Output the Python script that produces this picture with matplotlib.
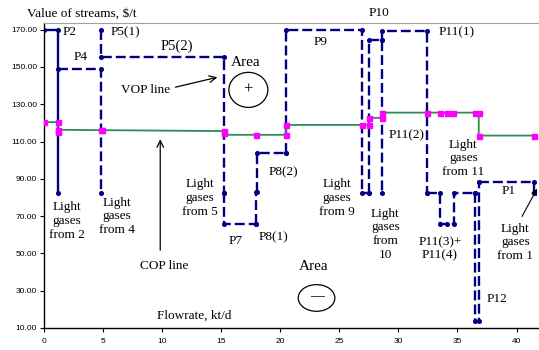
import matplotlib.pyplot as plt
from matplotlib.patches import Ellipse

# process paths (flowrate kt/d, value $/t)
p2_x = [0, 1.16, 1.16]
p2_y = [170, 170, 82.6]
p4_x = [1.16, 4.82, 4.82]
p4_y = [149, 149, 82.6]
p5_x = [4.82, 4.82, 15.25, 15.25]
p5_y = [170, 155.2, 155.2, 82.6]
p7_x = [15.25, 15.25, 17.94]
p7_y = [82.6, 65.6, 65.6]
p8a_x = [17.94, 17.94]
p8a_y = [65.6, 82.9]
p8b_x = [18.05, 18.05, 20.47]
p8b_y = [82.9, 104.1, 104.1]
p9_x = [20.47, 20.47, 26.96, 26.96, 27.55]
p9_y = [104.1, 170, 170, 82.6, 82.6]
p10_x = [27.55, 27.55, 28.57, 28.57]
p10_y = [82.6, 164.5, 164.5, 82.6]
p11a_x = [28.57, 28.57, 32.4, 32.4]
p11a_y = [164.5, 169.5, 169.5, 82.6]
p11b_x = [32.4, 33.5, 33.5, 34.15, 34.7, 34.7, 36.46]
p11b_y = [82.6, 82.6, 65.9, 65.9, 65.9, 82.6, 82.6]
p12_x = [36.46, 36.46, 36.85, 36.85]
p12_y = [82.6, 14.0, 14.0, 88.5]
p1_x = [36.85, 41.45, 41.45]
p1_y = [88.5, 88.5, 82.6]

# COP line
cop_x = [0, 1.16, 1.16, 4.82, 15.25, 15.25, 20.47, 20.47, 27.55, 27.55, 28.57, 28.57, 36.8, 36.8, 41.5]
cop_y = [120.4, 120.4, 116.3, 116.1, 115.6, 113.6, 113.6, 118.9, 118.9, 122.7, 122.7, 125.5, 125.5, 113.2, 113.2]
pts_x = [0, 1.16, 1.16, 1.16, 4.82, 4.95, 15.25, 15.25, 17.94, 20.47, 20.47, 26.96,
         27.55, 27.55, 28.57, 28.57, 32.4, 33.5, 34.15, 34.6, 36.5, 36.8, 36.8, 41.5]
pts_y = [120.4, 120.4, 116.3, 115.0, 116.1, 116.1, 115.6, 114.8, 113.6, 113.6, 118.9, 118.9,
         118.9, 122.7, 122.7, 125.5, 125.5, 125.5, 125.5, 125.5, 125.5, 125.5, 113.2, 113.2]

serif = ['Liberation Serif', 'DejaVu Serif']
navy = '#000080'

fig = plt.figure(figsize=(5.39, 3.5), dpi=100)
ax = fig.add_axes([0.0816, 0.0629, 0.9184, 0.8705])

ax.plot(p2_x, p2_y, color=navy, lw=1.7, marker='o', ms=2.6)
dashed = [(p4_x, p4_y), (p5_x, p5_y), (p7_x, p7_y), (p8a_x, p8a_y), (p8b_x, p8b_y),
          (p9_x, p9_y), (p10_x, p10_y), (p11a_x, p11a_y), (p11b_x, p11b_y),
          (p12_x, p12_y), (p1_x, p1_y)]
for xs, ys in dashed:
    ax.plot(xs, ys, color=navy, lw=1.7, ls=(0, (4.2, 1.7)), marker='o', ms=2.6)

ax.plot(cop_x, cop_y, color='#2e8b57', lw=1.3, zorder=3)
ax.plot(pts_x, pts_y, ls='none', marker='s', ms=3.6, color='#ff00ff', zorder=4)

ax.set_xlim(0, 41.9)
ax.set_ylim(10, 173.4)
ax.set_xticks(range(0, 45, 5))
ax.set_yticks(range(10, 171, 20))
ax.set_yticklabels([f"{v:.2f}" for v in range(10, 171, 20)])
ax.tick_params(labelsize=6, length=3, width=0.8, pad=2)
ax.tick_params(axis='x', pad=4)
for lab in ax.get_xticklabels() + ax.get_yticklabels():
    lab.set_family('Liberation Sans')
ax.spines['right'].set_visible(False)
ax.spines['top'].set_color('#a0a0a0')
ax.spines['left'].set_linewidth(1)
ax.spines['bottom'].set_linewidth(1)

def txt(x, y, s, size=9.5, ha='left', **kw):
    ax.text(x, y, s, fontsize=size, family=serif, ha=ha, va='center',
            linespacing=1.2, clip_on=False, **kw)

fig.text(0.0495, 0.962, "Value of streams, $/t", fontsize=9.5, family=serif, va='center')
txt(1.58, 168.6, "P2")
txt(5.67, 168.6, "P5(1)")
txt(2.54, 155.5, "P4")
txt(9.9, 160.9, "P5(2)", size=10.5)
txt(15.8, 152.3, "Area", size=11)
txt(6.5, 137.7, "VOP line")
txt(22.84, 163.6, "P9")
txt(27.5, 179.1, "P10")
txt(33.4, 168.4, "P11(1)")
txt(29.2, 113.6, "P11(2)")
txt(35.5, 101, "Light\ngases\nfrom 11", ha='center')
txt(19.0, 93.6, "P8(2)")
txt(24.8, 79.6, "Light\ngases\nfrom 9", ha='center')
txt(13.2, 79.6, "Light\ngases\nfrom 5", ha='center')
txt(16.2, 56.9, "P7", ha='center')
txt(18.2, 58.7, "P8(1)")
txt(21.6, 43, "Area", size=11)
txt(8.1, 43, "COP line")
txt(9.53, 16.6, "Flowrate, kt/d")
txt(1.92, 67.5, "Light\ngases\nfrom 2", ha='center')
txt(6.15, 69.8, "Light\ngases\nfrom 4", ha='center')
txt(28.9, 60.2, "Light\ngases\nfrom\n10", ha='center')
txt(33.5, 52.5, "P11(3)+\nP11(4)", ha='center')
txt(39.9, 55.9, "Light\ngases\nfrom 1", ha='center')
txt(38.7, 83.2, "P1")
txt(37.5, 25.7, "P12")

ax.add_patch(Ellipse((17.3, 137.7), 3.3, 18.8, fill=False, lw=0.9, color='black'))
txt(17.3, 137.7, "+", size=12, ha='center')
ax.add_patch(Ellipse((23.07, 26.1), 3.1, 14.3, fill=False, lw=0.9, color='black'))
txt(23.07, 26.6, "\u2014", size=10, ha='center')

ax.annotate("", xy=(14.9, 144.8), xytext=(10.9, 138.8),
            arrowprops=dict(arrowstyle='->', lw=0.9, color='black', mutation_scale=12))
ax.annotate("", xy=(9.84, 112.7), xytext=(9.84, 50.2),
            arrowprops=dict(arrowstyle='->', lw=0.9, color='black', mutation_scale=12))
ax.annotate("", xy=(41.85, 86.0), xytext=(40.35, 68.5),
            arrowprops=dict(arrowstyle='->', lw=0.8, color='black', mutation_scale=9),
            annotation_clip=False)

fig.savefig("out.png", dpi=100)
